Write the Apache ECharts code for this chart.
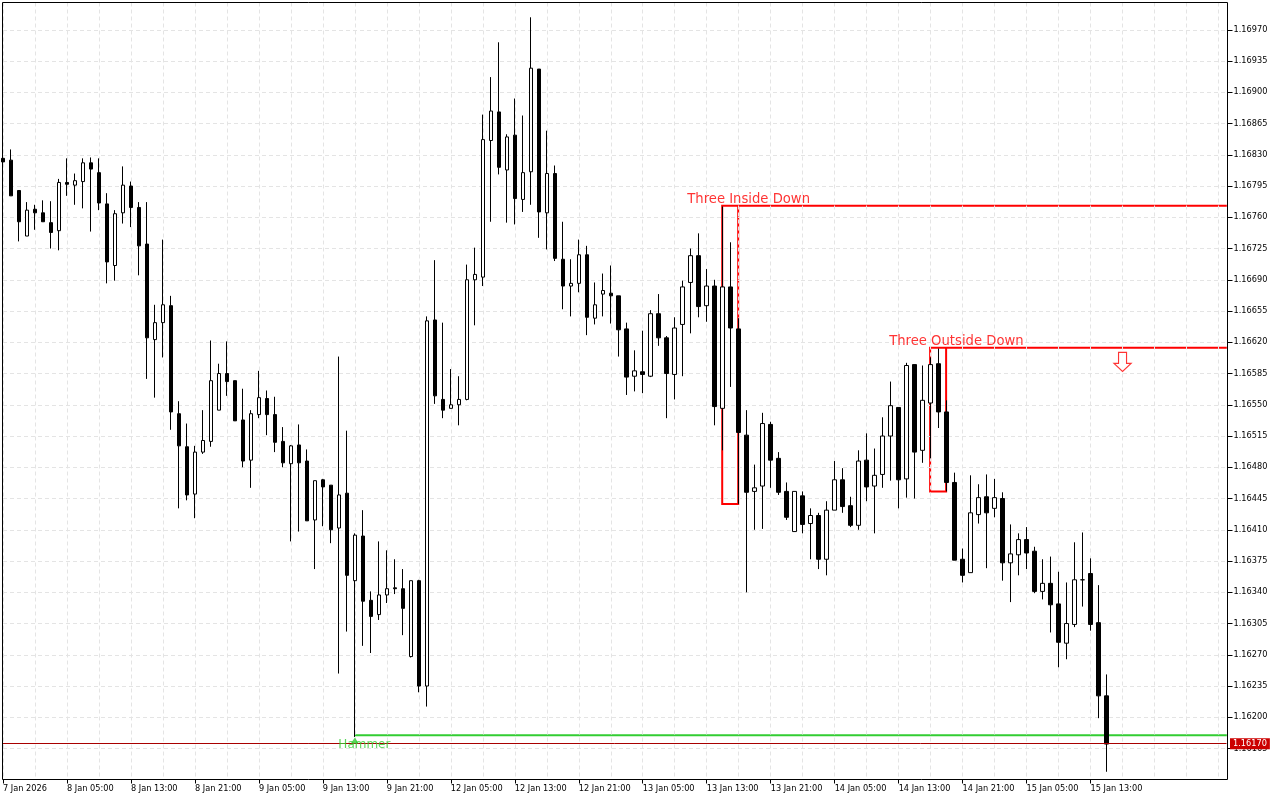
<!DOCTYPE html>
<html>
<head>
<meta charset="utf-8">
<style>html,body{margin:0;padding:0;background:#fff}#c{width:1280px;height:800px}</style>
<script src="https://cdn.jsdelivr.net/npm/echarts@6/dist/echarts.min.js"></script>
</head>
<body>
<div id="c"></div>
<script>
const opens = [1.16826,1.16824,1.16790,1.16739,1.16769,1.16765,1.16754,1.16745,1.16799,1.16796,
1.16800,1.16821,1.16810,1.16775,1.16706,1.16765,1.16795,1.16771,1.16730,1.16623,
1.16642,1.16661,1.16540,1.16503,1.16450,1.16497,1.16509,1.16544,1.16585,1.16577,
1.16533,1.16488,1.16539,1.16557,1.16539,1.16509,1.16484,1.16505,1.16487,1.16421,
1.16466,1.16460,1.16412,1.16451,1.16353,1.16403,1.16331,1.16315,1.16337,1.16345,
1.16344,1.16268,1.16353,1.16235,1.16645,1.16556,1.16546,1.16550,1.16556,1.16690,
1.16693,1.16846,1.16878,1.16813,1.16852,1.16780,1.16811,1.16926,1.16765,1.16809,
1.16713,1.16683,1.16686,1.16718,1.16647,1.16674,1.16675,1.16672,1.16635,1.16582,
1.16587,1.16582,1.16652,1.16625,1.16584,1.16640,1.16687,1.16717,1.16661,1.16683,
1.16546,1.16682,1.16635,1.16516,1.16453,1.16459,1.16528,1.16490,1.16453,1.16408,
1.16448,1.16417,1.16426,1.16377,1.16432,1.16466,1.16437,1.16415,1.16488,1.16459,
1.16472,1.16515,1.16547,1.16467,1.16595,1.16499,1.16552,1.16596,1.16542,1.16463,
1.16377,1.16362,1.16427,1.16447,1.16434,1.16445,1.16373,1.16382,1.16399,1.16386,
1.16341,1.16350,1.16327,1.16283,1.16304,1.16354,1.16361,1.16306,1.16224];
const closes = [1.16822,1.16784,1.16755,1.16768,1.16765,1.16755,1.16743,1.16799,1.16797,1.16801,
1.16821,1.16814,1.16776,1.16710,1.16764,1.16796,1.16771,1.16728,1.16625,1.16642,
1.16662,1.16542,1.16504,1.16449,1.16497,1.16510,1.16577,1.16585,1.16576,1.16532,
1.16487,1.16540,1.16558,1.16539,1.16508,1.16485,1.16504,1.16485,1.16420,1.16465,
1.16458,1.16410,1.16449,1.16359,1.16404,1.16330,1.16313,1.16337,1.16344,1.16344,
1.16322,1.16353,1.16235,1.16644,1.16560,1.16544,1.16550,1.16556,1.16690,1.16696,
1.16847,1.16879,1.16816,1.16850,1.16781,1.16810,1.16927,1.16766,1.16809,1.16714,
1.16683,1.16686,1.16718,1.16648,1.16662,1.16678,1.16672,1.16634,1.16581,1.16588,
1.16584,1.16652,1.16625,1.16585,1.16636,1.16682,1.16717,1.16660,1.16683,1.16548,
1.16682,1.16636,1.16519,1.16452,1.16457,1.16529,1.16488,1.16452,1.16424,1.16453,
1.16416,1.16426,1.16377,1.16432,1.16466,1.16436,1.16415,1.16487,1.16458,1.16471,
1.16515,1.16549,1.16466,1.16594,1.16497,1.16555,1.16595,1.16542,1.16463,1.16376,
1.16359,1.16429,1.16446,1.16429,1.16446,1.16373,1.16383,1.16399,1.16384,1.16341,
1.16350,1.16326,1.16284,1.16305,1.16354,1.16354,1.16304,1.16224,1.16170];
const highs = [1.16829,1.16836,1.16790,1.16777,1.16774,1.16779,1.16778,1.16803,1.16826,1.16809,
1.16826,1.16827,1.16826,1.16787,1.16768,1.16817,1.16800,1.16777,1.16777,1.16662,
1.16735,1.16672,1.16554,1.16529,1.16504,1.16544,1.16622,1.16596,1.16621,1.16577,
1.16568,1.16544,1.16588,1.16566,1.16559,1.16525,1.16505,1.16528,1.16500,1.16465,
1.16467,1.16460,1.16604,1.16521,1.16406,1.16432,1.16341,1.16397,1.16387,1.16377,
1.16366,1.16353,1.16354,1.16649,1.16712,1.16642,1.16590,1.16582,1.16707,1.16726,
1.16875,1.16917,1.16956,1.16853,1.16893,1.16874,1.16984,1.16926,1.16857,1.16818,
1.16755,1.16713,1.16735,1.16728,1.16687,1.16697,1.16706,1.16672,1.16642,1.16611,
1.16633,1.16656,1.16674,1.16627,1.16648,1.16689,1.16725,1.16742,1.16702,1.16690,
1.16772,1.16732,1.16647,1.16544,1.16483,1.16541,1.16531,1.16497,1.16463,1.16453,
1.16453,1.16434,1.16429,1.16442,1.16487,1.16479,1.16447,1.16499,1.16518,1.16501,
1.16536,1.16576,1.16547,1.16597,1.16595,1.16594,1.16603,1.16613,1.16555,1.16474,
1.16389,1.16471,1.16461,1.16472,1.16467,1.16452,1.16416,1.16406,1.16413,1.16391,
1.16377,1.16380,1.16363,1.16351,1.16396,1.16407,1.16378,1.16348,1.16248];
const lows = [1.16820,1.16784,1.16733,1.16739,1.16746,1.16755,1.16725,1.16723,1.16784,1.16774,
1.16770,1.16744,1.16768,1.16686,1.16689,1.16753,1.16749,1.16695,1.16579,1.16558,
1.16603,1.16522,1.16434,1.16443,1.16423,1.16495,1.16503,1.16544,1.16560,1.16532,
1.16480,1.16457,1.16535,1.16516,1.16497,1.16480,1.16397,1.16408,1.16420,1.16366,
1.16414,1.16395,1.16249,1.16296,1.16178,1.16280,1.16272,1.16309,1.16328,1.16338,
1.16292,1.16267,1.16228,1.16212,1.16551,1.16535,1.16546,1.16527,1.16555,1.16639,
1.16683,1.16755,1.16808,1.16754,1.16752,1.16766,1.16774,1.16737,1.16724,1.16711,
1.16657,1.16649,1.16676,1.16628,1.16640,1.16649,1.16641,1.16604,1.16561,1.16565,
1.16563,1.16581,1.16616,1.16535,1.16556,1.16582,1.16630,1.16648,1.16643,1.16527,
1.16499,1.16570,1.16439,1.16340,1.16410,1.16411,1.16457,1.16449,1.16421,1.16408,
1.16406,1.16377,1.16366,1.16359,1.16432,1.16429,1.16413,1.16410,1.16442,1.16406,
1.16457,1.16465,1.16434,1.16446,1.16445,1.16485,1.16490,1.16524,1.16453,1.16376,
1.16351,1.16362,1.16417,1.16367,1.16424,1.16353,1.16329,1.16359,1.16366,1.16339,
1.16332,1.16295,1.16256,1.16265,1.16301,1.16324,1.16297,1.16199,1.16139];

// one x label per 8 bars, starting at bar 0
const timeLabels = ['7 Jan 2026','8 Jan 05:00','8 Jan 13:00','8 Jan 21:00','9 Jan 05:00','9 Jan 13:00','9 Jan 21:00',
  '12 Jan 05:00','12 Jan 13:00','12 Jan 21:00','13 Jan 05:00','13 Jan 13:00','13 Jan 21:00','14 Jan 05:00',
  '14 Jan 13:00','14 Jan 21:00','15 Jan 05:00','15 Jan 13:00'];
const barsPerLabel = 8;
const slotCount = 154;
const priceTicks = ['1.16970','1.16935','1.16900','1.16865','1.16830','1.16795','1.16760','1.16725','1.16690','1.16655',
  '1.16620','1.16585','1.16550','1.16515','1.16480','1.16445','1.16410','1.16375','1.16340','1.16305','1.16270',
  '1.16235','1.16200','1.16165'];
const currentPriceText = '1.16170';
const currentPriceLevel = 1.161705;

const lastSlot = slotCount - 1;
const insideTop = 1.16773, insideBottom = 1.16439;
const outsideTop = 1.16614, outsideBottom = 1.16453;
const hammerLevel = 1.16180;
const threeInsideLine = [[lastSlot+0.1,insideTop],[90,insideTop],[90,insideBottom],[92,insideBottom],[92,insideTop]];
const threeOutsideLine = [[lastSlot+0.1,outsideTop],[116,outsideTop],[116,outsideBottom],[118,outsideBottom],[118,outsideTop]];
const hammerLine = [[44,hammerLevel],[lastSlot+0.1,hammerLevel]];

const categories = Array.from({length:slotCount},(_,i)=> i%barsPerLabel===0 ? (timeLabels[i/barsPerLabel]||'') : '');
const candles = opens.map((o,i)=>[o,closes[i],lows[i],highs[i]]);
const labelFont = 'DejaVu Sans';
const labelSize = 8.2;
const isLabelled = (i)=> categories[i] !== '';
const markerLine = (name,data,color)=>({
  type:'line',name,data,xAxisIndex:1,z:-1,showSymbol:false,symbol:'none',animation:false,silent:true,clip:true,
  lineStyle:{color,width:2,join:'miter',cap:'butt'}
});
const noteLabel = (name,pos,color,size,dx,dy)=>({
  value:pos,name,
  label:{show:true,position:'right',distance:0,offset:[dx,dy],formatter:name,color,fontSize:size,fontFamily:'DejaVu Sans'}
});

const chart = echarts.init(document.getElementById('c'),null,{renderer:'canvas'});
chart.setOption({
  animation:false,
  backgroundColor:'#ffffff',
  grid:{left:2.5,top:2.5,width:1224,height:777,show:false},
  xAxis:[{
    type:'category',data:categories,boundaryGap:false,
    axisLine:{show:false},
    axisTick:{show:true,length:4,interval:(i)=>isLabelled(i),lineStyle:{color:'#000'}},
    axisLabel:{show:true,interval:(i)=>isLabelled(i),align:'left',margin:5,color:'#000',fontSize:labelSize,fontFamily:labelFont,hideOverlap:false},
    splitLine:{show:true,interval:3,lineStyle:{color:'#e4e4e4',width:1,type:[4,3]}},
    splitArea:{show:false}
  },{
    type:'value',show:false,min:0.0625,max:153.0625,splitLine:{show:false}
  }],
  yAxis:{
    type:'value',position:'right',scale:true,min:1.1613032,max:1.1700056,offset:1,
    axisLine:{show:false},
    axisTick:{show:true,length:5,customValues:priceTicks.map(Number),lineStyle:{color:'#000'}},
    axisLabel:{show:true,margin:6,customValues:priceTicks.map(Number),color:'#000',fontSize:labelSize,fontFamily:labelFont,
      formatter:(v)=>v.toFixed(5)},
    splitLine:{show:true,lineStyle:{color:'#e4e4e4',width:1,type:[4,3]}}
  },
  series:[
    markerLine('Three Inside Down',threeInsideLine,'#ff0000'),
    markerLine('Three Outside Down',threeOutsideLine,'#ff0000'),
    markerLine('Hammer',hammerLine,'#32cd32'),
    {
      type:'candlestick',name:'EURUSD',data:candles,barWidth:4,z:3,clip:true,animation:false,silent:true,
      itemStyle:{color:'#ffffff',color0:'#000000',borderColor:'#000000',borderColor0:'#000000',borderColorDoji:'#000000',borderWidth:1},
      markLine:{
        silent:true,symbol:'none',animation:false,precision:6,
        lineStyle:{color:'#a80000',width:1,type:'solid'},
        data:[{yAxis:currentPriceLevel}],
        label:{show:true,position:'end',distance:3.5,formatter:currentPriceText,color:'#fff',fontSize:labelSize,fontFamily:labelFont,
          backgroundColor:'#cc0000',padding:[1,3,1,3],lineHeight:9}
      }
    },
    {
      type:'scatter',name:'notes',z:6,silent:true,animation:false,symbolSize:1,
      itemStyle:{color:'transparent'},
      data:[
        noteLabel('Three Inside Down',[86,1.16780],'#ff0000',13.2,-4,0),
        noteLabel('Three Outside Down',[111,1.16621],'#ff0000',13.2,-2,0),
        noteLabel('Hammer',[42,1.16170],'#32cd32',12,-1,0.5)
      ]
    },
    {
      type:'scatter',name:'hammer signal',z:5,silent:true,animation:false,symbol:'triangle',symbolSize:[8,6],
      itemStyle:{color:'#32cd32'},data:[[44,1.16174]]
    },
    {
      type:'scatter',name:'sell signal',z:5,silent:true,animation:false,
      symbol:'path://M4.5 0H12.5V11H17L8.5 19L0 11H4.5Z',symbolSize:[17,19],
      itemStyle:{color:'#ffffff',borderColor:'#ff0000',borderWidth:1.2},data:[[140,1.16598]]
    }
  ],
  graphic:[{type:'rect',z:100,silent:true,shape:{x:2.5,y:2.5,width:1225,height:777},style:{fill:null,stroke:'#000',lineWidth:1}}]
});
</script>
</body>
</html>
